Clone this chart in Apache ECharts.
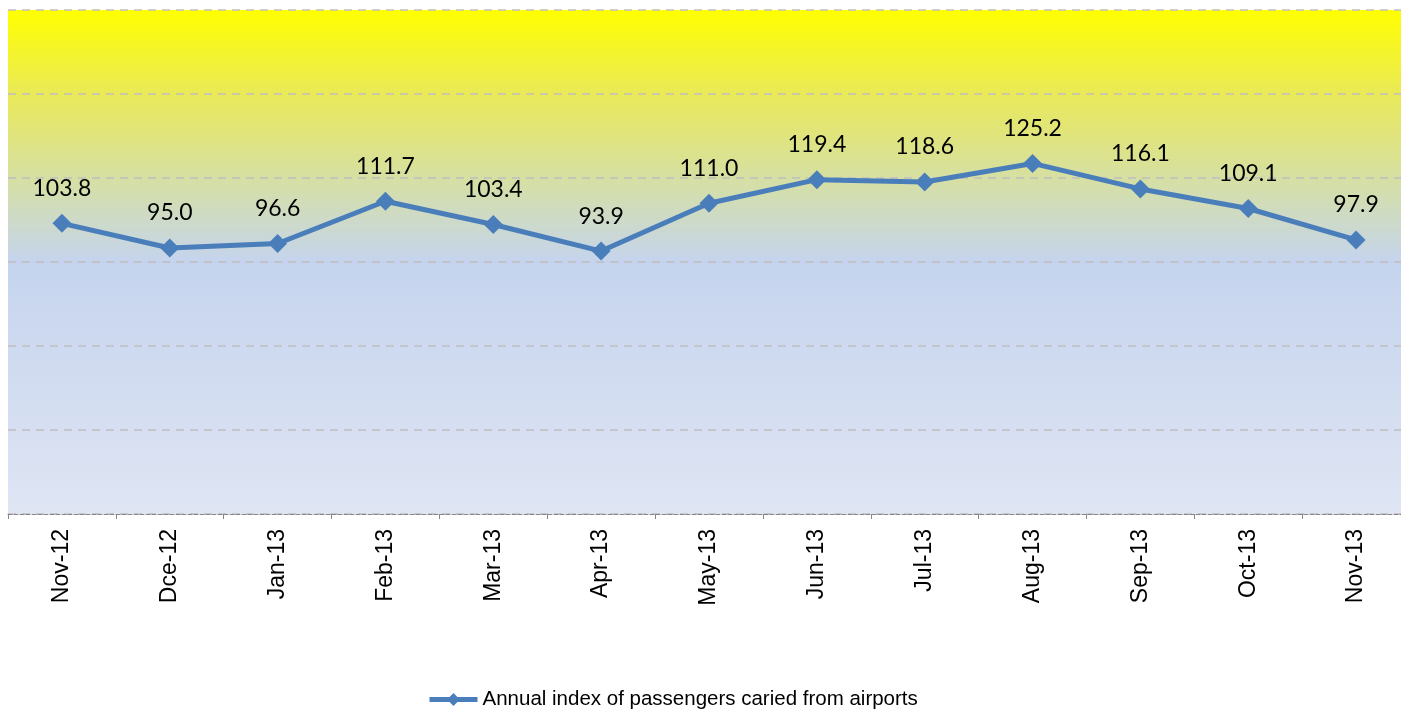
<!DOCTYPE html>
<html>
<head>
<meta charset="utf-8">
<style>
html,body{margin:0;padding:0;background:#fff;overflow:hidden;}
#chart{width:1410px;height:709px;}
</style>
<script src="https://cdn.jsdelivr.net/npm/echarts@6/dist/echarts.min.js"></script>
</head>
<body>
<div id="chart"></div>
<script>
const categories = ['Nov-12','Dce-12','Jan-13','Feb-13','Mar-13','Apr-13','May-13','Jun-13','Jul-13','Aug-13','Sep-13','Oct-13','Nov-13'];
const values = [103.8, 95.0, 96.6, 111.7, 103.4, 93.9, 111.0, 119.4, 118.6, 125.2, 116.1, 109.1, 97.9];
const seriesName = 'Annual index of passengers caried from airports';
const yMin = 0, yMax = 180, yInterval = 30;

const chart = echarts.init(document.getElementById('chart'));
chart.setOption({
  animation: false,
  grid: {
    left: 8, top: 10, right: 0, bottom: 195,
    show: true, borderWidth: 0,
    backgroundColor: {
      type: 'linear', x: 0, y: 0, x2: 0, y2: 1,
      colorStops: [
        {offset: 0, color: '#FFFF00'},
        {offset: 0.17, color: '#E9E95A'},
        {offset: 0.36, color: '#D3DEAE'},
        {offset: 0.5, color: '#C5D4EE'},
        {offset: 1, color: '#DFE5F3'}
      ]
    }
  },
  legend: {
    left: 422, top: 684,
    itemWidth: 48, itemHeight: 16,
    itemGap: 0,
    lineStyle: {width: 5, color: '#4A7EBB'},
    textStyle: {fontFamily: 'Liberation Sans, Arial', fontSize: 20.5, color: '#000', padding: [0,0,0,0]},
    data: [seriesName]
  },
  xAxis: {
    type: 'category',
    data: categories,
    boundaryGap: true,
    axisLine: {show: true, lineStyle: {color: '#868686', type: [4,2], width: 1}},
    axisTick: {show: true, length: 5, lineStyle: {color: '#868686'}},
    axisLabel: {rotate: 90, margin: 15, fontFamily: 'Liberation Sans, Arial', fontSize: 23, color: '#000'},
    splitLine: {show: false}
  },
  yAxis: {
    type: 'value',
    min: yMin, max: yMax, interval: yInterval,
    axisLine: {show: false},
    axisTick: {show: false},
    axisLabel: {show: false},
    splitLine: {show: true, lineStyle: {color: '#BFBFBF', type: [8,6], width: 1.5}}
  },
  series: [{
    name: seriesName,
    type: 'line',
    data: values,
    symbol: 'diamond',
    symbolSize: 19,
    lineStyle: {color: '#4A7EBB', width: 5},
    itemStyle: {color: '#4A7EBB'},
    label: {
      show: true, position: 'top', distance: 14,
      fontFamily: 'Lato', fontSize: 23, color: '#000',
      formatter: p => p.value.toFixed(1)
    }
  }]
});
</script>
</body>
</html>
